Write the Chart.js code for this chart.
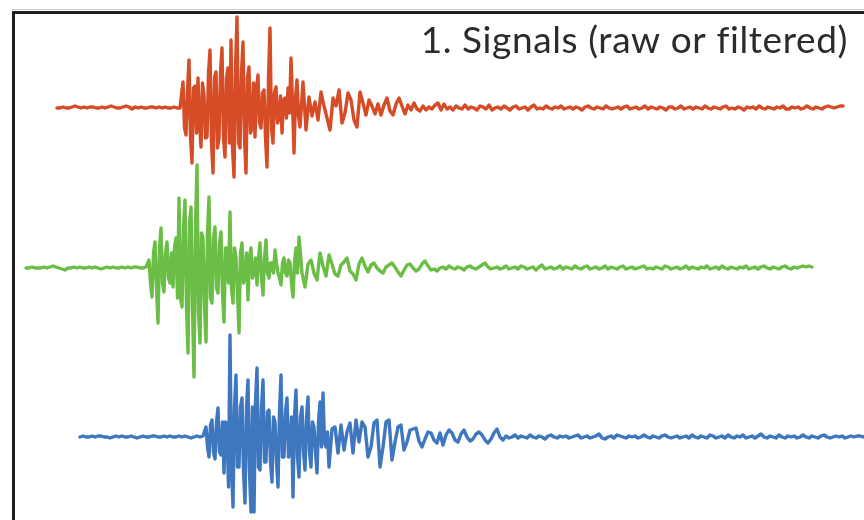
<!DOCTYPE html>
<html>
<head>
<meta charset="utf-8">
<title>Signals</title>
<script src="https://cdn.jsdelivr.net/npm/chart.js@4/dist/chart.umd.min.js"></script>
<style>
  html, body { margin: 0; padding: 0; background: #ffffff; }
  #wrap { width: 864px; height: 520px; position: relative; }
</style>
</head>
<body>
<div id="wrap"><canvas id="c" width="864" height="520"></canvas></div>
<script>
// Three seismic traces. Quiet parts are sampled every 0.03 s, the strong
// motion every 0.015 s. Amplitudes are in counts.
const slowStep = 0.03;
const fastStep = 0.015;
const chartTitle = "1. Signals (raw or filtered)";
const traceNames = ["Station A", "Station B", "Station C"];
const traceOffsets = [0, -160, -329];
const traceColors = ["#D64C26", "#6ABD45", "#3E77BF"];

// ---- Station A ----
const aPreStart = 0.57;
const aPre = [
  0,0,1,0,0,1,2,1,0,1, 0,1,1,0,0,1,0,1,2,1, 0,0,1,2,1,-1,1,0,1,0, 0,1,1,0,1,0,1,0,0,1, 0,0
];
const aBurstStart = 1.83;
const aBurst = [
  26,-20,-27,18,48,-30,-55,20,22,-25, 30,-15,-39,25,12,-30,-29,35,58,-35,
  -65,30,36,-40,-30,35,60,-30,-49,30, 40,-35,68,-40,-69,40,91,-35,-40,35,
  66,-30,-65,30,41,-25,-20,25,-29,20, 33,-15,-20,15,18,-30,-59,30,80,-20,
  -35,15,21,-15,-10,12,-25,8,10,-10, 20,-5,50,5,-45,10,28,-8,-19
];
const aCodaStart = 3.03;
const aCoda = [
  26,-22,11,-8,6,-12,16,2,-10,-22,
  10,2,18,-15,-5,15,8,-12,-19,16,
  5,-7,8,2,-6,4,-7,3,10,-3,
  -7,4,10,2,-6,3,-2,5,-1,-3,
  2,-2,1,-1,3,5,-2,4,-1,1,
  -2,2,0,-1,3,-1,1,0,-2,2,
  1,-1,3,-2,0,1,-1,2,0,-2,
  1,2,-1,0,1,-2,1,3,-1,0,
  -1,2,0,-1,1,0,2,-1,0,1,
  -1,1,0,-2,1,2,0,-1,1,0,
  -1,2,0,-1,0,1,-1,1,2,-1,
  0,1,-1,0,2,-1,1,0,-1,1,
  0,-2,1,1,-1,0,2,-1,0,1,
  -1,1,0,-1,2,0,-1,1,0,-1,
  1,2,-1,0,-1,1,0,-2,1,0,
  1,-1,2,0,-1,1,0,-1,1,0,
  2,-1,-1,1,0,1,-1,0,2,0,
  -1,1,0,-1,1,2,1,0,1,2,
  2
];

// ---- Station B ----
const bPreStart = 0.26;
const bPre = [
  0,0,1,0,0,0,1,0,1,2, 1,0,-1,-2,0,0,1,0,1,0, 0,1,0,1,0,-1,0,1,0,1, 0,0,1,0,1,0,1,1,0,0, 1
];
const bBurstStart = 1.49;
const bBurst = [
  8,-15,-29,15,26,-20,-55,20,40,-15, -24,15,26,-10,-15,15,-19,20,30,-30,
  70,-30,-39,40,68,-40,-85,45,61,-40, -109,40,103,-45,-75,35,30,-40,-74,35,
  71,-30,-35,30,41,-20,-25,25,36,-25, -54,20,20,-15,56,-20,-35,20,10,-25,
  -65,15,25,-15,-10,15,-32,10,20,-10, -5,10,-17,10,25,-10,-27,10,28,-5,
  -10,5,5,-5,18,5,-5,-10,-17,5, 10,-5,-8,8,5,-15,-29,5,20,-5,
  31
];
const bCodaStart = 3.02;
const bCoda = [
  -5,-19,4,8,-5,-12,15,2,-8,
  13,4,-6,-8,3,6,10,-3,-6,-12,
  4,10,2,-4,3,5,0,-3,-5,1,
  3,5,1,-4,-8,-2,3,4,0,-3,
  -1,4,7,2,-2,-1,-3,0,
  1,-1,2,0,-1,1,0,-2,1,2,
  0,-1,1,3,5,1,-1,0,1,-1,
  0,2,-1,0,1,-1,2,1,-1,0,
  1,-2,1,3,-1,0,1,-1,0,2,
  -1,1,0,-1,2,0,-1,1,2,-1,
  0,1,-1,0,2,-1,1,0,-1,1,
  2,-1,0,1,-1,0,1,2,-1,0,
  -1,1,0,-1,2,1,-1,0,1,-1,
  0,2,-1,1,0,-1,1,0,2,-1,
  0,1,-1,2,0,-1,1,0,-1,1,
  0,2,-1,0,1,-1,1,2,0,-1,
  1,0,-1,1,2,0,-1,1,0,1,
  2,1,2,1
];

// ---- Station C ----
const cPreStart = 0.80;
const cPre = [
  0,1,0,0,1,0,1,1,0,0, -1,0,1,0,1,0,0,1,0,-1, 0,1,0,0,1,1,0,0,1,0, 1,0,0,1,0,1,0,-1,0,1, 0,1
];
const cBurstStart = 2.06;
const cBurst = [
  10,-10,-20,12,17,-15,-22,15,29,-15, -18,15,-36,15,12,-50,102,-30,-70,30,
  62,-30,-30,30,39,-35,-66,30,57,-35, -75,30,-75,35,69,-30,-33,30,57,-25,
  -25,25,27,-25,-45,20,15,-25,-50,25, 62,-20,-20,25,39,-20,-15,20,-60,20,
  47,-20,-40,20,30,-15,-33,20,40,-15, -30,15,10,-15,-36,15,35,-10,44,-5,
  -10,5,-30
];
const cCodaStart = 3.32;
const cCoda = [
  8,10,-16,12,-13,5,14,-16,
  17,-5,15,10,-20,-10,14,17,-30,-10,
  15,17,-23,-5,10,12,-13,-5,7,8,
  9,-4,-10,-2,5,4,-3,-6,4,-8,
  2,7,4,-3,-5,3,7,0,-4,-2,
  3,5,2,-3,-6,-2,4,8,0,-3,
  1,-1,0,2,-1,1,0,-1,2,0,
  -1,1,0,-2,1,2,0,-1,1,0,
  1,-1,0,1,2,-1,0,1,-1,0,
  1,3,-1,-2,0,1,-1,2,1,0,
  -1,1,0,1,-1,0,2,0,-1,1,
  0,-1,1,2,0,-1,0,1,-1,0,
  1,-1,2,0,-1,1,0,-1,2,1,
  -1,0,1,-1,2,0,-1,1,0,2,
  -1,0,1,-1,1,3,0,-1,1,0,
  -1,2,0,-1,1,0,1,-1,0,2,
  0,-1,1,0,-1,1,2,0,-1,0,
  1,0,1,-1,0,1,0,1,1,0,
  1
];

// Turn a run of samples into {x, y} points shifted by the trace offset.
function segmentPoints(values, start, step, offset) {
  return values.map((v, i) => ({ x: +(start + i * step).toFixed(4), y: v + offset }));
}

const traceSegments = [
  [[aPre, aPreStart, slowStep], [aBurst, aBurstStart, fastStep], [aCoda, aCodaStart, slowStep]],
  [[bPre, bPreStart, slowStep], [bBurst, bBurstStart, fastStep], [bCoda, bCodaStart, slowStep]],
  [[cPre, cPreStart, slowStep], [cBurst, cBurstStart, fastStep], [cCoda, cCodaStart, slowStep]]
];

const datasets = traceSegments.map((segs, k) => ({
  label: traceNames[k],
  data: segs.flatMap(([vals, start, step]) => segmentPoints(vals, start, step, traceOffsets[k])),
  borderColor: traceColors[k],
  borderWidth: 3.4,
  pointRadius: 0,
  tension: 0,
  borderJoinStyle: "round",
  borderCapStyle: "round",
  fill: false
}));

// White background, panel frame and the panel caption.
const panelDecor = {
  id: "panelDecor",
  beforeDraw(chart) {
    const ctx = chart.ctx;
    ctx.save();
    ctx.fillStyle = "#ffffff";
    ctx.fillRect(0, 0, chart.width, chart.height);
    ctx.restore();
  },
  afterDraw(chart) {
    const ctx = chart.ctx;
    ctx.save();
    ctx.strokeStyle = "#c8c8c8";
    ctx.lineWidth = 1;
    ctx.beginPath();
    ctx.moveTo(12, 9.5);
    ctx.lineTo(chart.width, 9.5);
    ctx.stroke();
    ctx.strokeStyle = "#1f1f1f";
    ctx.lineWidth = 3;
    ctx.beginPath();
    ctx.moveTo(13.5, chart.height + 5);
    ctx.lineTo(13.5, 12.5);
    ctx.lineTo(chart.width + 5, 12.5);
    ctx.stroke();
    ctx.fillStyle = "#2b2b2b";
    ctx.font = "37px Lato, 'Open Sans', sans-serif";
    if ("letterSpacing" in ctx) ctx.letterSpacing = "0.6px";
    ctx.textAlign = "right";
    ctx.textBaseline = "alphabetic";
    ctx.fillText(chartTitle, 848, 53);
    ctx.restore();
  }
};

new Chart(document.getElementById("c"), {
  type: "line",
  data: { datasets },
  options: {
    responsive: false,
    animation: false,
    devicePixelRatio: 1,
    layout: { padding: 0 },
    scales: {
      x: { type: "linear", min: 0, max: 8.64, display: false },
      y: { type: "linear", min: -412, max: 108, display: false }
    },
    plugins: {
      legend: { display: false },
      tooltip: { enabled: false },
      title: { display: false }
    }
  },
  plugins: [panelDecor]
});
</script>
</body>
</html>
